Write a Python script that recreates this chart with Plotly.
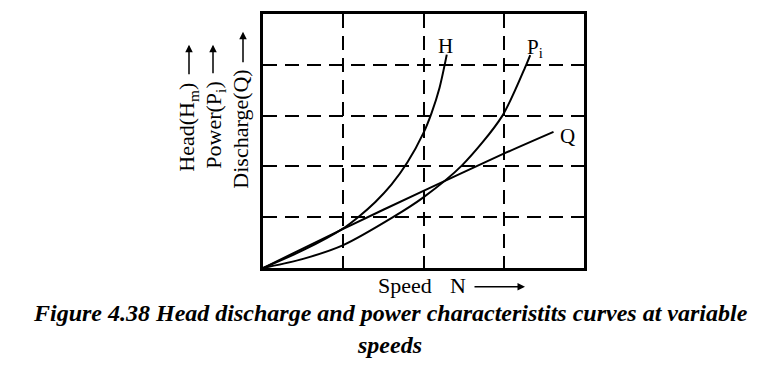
import plotly.graph_objects as go

# Speed (grid units) and curve values (grid units)
h_speed = [0, 0.5, 1.0, 1.2, 1.4, 1.6, 1.8, 2.0, 2.1, 2.2, 2.29]
h_head = [0, 0.35, 0.78, 1.02, 1.3, 1.64, 2.08, 2.66, 3.05, 3.55, 4.2]

p_speed = [0, 0.5, 1.0, 1.62, 1.99, 2.48, 2.98, 3.28, 3.33]
p_power = [0, 0.18, 0.45, 1.0, 1.38, 2.02, 2.99, 4.0, 4.19]

q_speed = [0, 1.0, 2.0, 3.0, 3.62]
q_discharge = [0, 0.77, 1.52, 2.25, 2.68]

SERIF = "Liberation Serif, Times New Roman, serif"

fig = go.Figure()
for xs, ys in [(h_speed, h_head), (p_speed, p_power), (q_speed, q_discharge)]:
    fig.add_trace(go.Scatter(x=xs, y=ys, mode="lines",
                             line=dict(color="black", width=2, shape="spline", smoothing=0.8),
                             hoverinfo="skip", showlegend=False))

# Curve labels
fig.add_annotation(x=2.27, y=4.37, text="H", showarrow=False,
                   font=dict(family=SERIF, size=21, color="black"))
fig.add_annotation(x=3.39, y=4.33, text="P<sub>i</sub>", showarrow=False,
                   font=dict(family=SERIF, size=21, color="black"))
fig.add_annotation(x=3.8, y=2.6, text="Q", showarrow=False,
                   font=dict(family=SERIF, size=21, color="black"))

def px2paper(px, py):
    return (px - 263) / 321.0, (268 - py) / 257.0

# Rotated axis labels
for txt, (cx, cy) in [("Head(H<sub>m</sub>)", (188, 126)),
                      ("Power(P<sub>i</sub>)", (215, 124)),
                      ("Discharge(Q)", (241, 128))]:
    x, y = px2paper(cx, cy)
    fig.add_annotation(x=x, y=y, xref="paper", yref="paper", text=txt, textangle=-90,
                       showarrow=False, xanchor="center", yanchor="middle",
                       font=dict(family=SERIF, size=22, color="black"))

for (hx, hy, ly) in [(189, 42, 73), (213, 42, 72), (243, 29, 61)]:
    x, y = px2paper(hx, hy)
    fig.add_annotation(x=x, y=y, xref="paper", yref="paper", text="", showarrow=True,
                       ax=0, ay=ly - hy, arrowhead=2, arrowsize=1, arrowwidth=1.5,
                       arrowcolor="black")

# Speed N label
x, y = px2paper(405, 286)
fig.add_annotation(x=x, y=y, xref="paper", yref="paper", text="Speed", showarrow=False,
                   xanchor="center", yanchor="middle",
                   font=dict(family=SERIF, size=22, color="black"))
x, y = px2paper(458, 286)
fig.add_annotation(x=x, y=y, xref="paper", yref="paper", text="N", showarrow=False,
                   xanchor="center", yanchor="middle",
                   font=dict(family=SERIF, size=22, color="black"))
x, y = px2paper(525, 287)
fig.add_annotation(x=x, y=y, xref="paper", yref="paper", text="", showarrow=True,
                   ax=-52, ay=0, arrowhead=2, arrowsize=1, arrowwidth=1.5, arrowcolor="black")

# Caption
x, y = px2paper(390, 314)
fig.add_annotation(x=x, y=y, xref="paper", yref="paper",
                   text="<b><i>Figure 4.38 Head discharge and power characteristits curves at variable</i></b>",
                   showarrow=False, xanchor="center", yanchor="middle",
                   font=dict(family=SERIF, size=24, color="black"))
x, y = px2paper(389, 346)
fig.add_annotation(x=x, y=y, xref="paper", yref="paper", text="<b><i>speeds</i></b>",
                   showarrow=False, xanchor="center", yanchor="middle",
                   font=dict(family=SERIF, size=24, color="black"))

axis_common = dict(showticklabels=False, ticks="", zeroline=False,
                   showline=True, mirror=True, linecolor="black", linewidth=2.5,
                   showgrid=True, gridcolor="black", gridwidth=2, griddash="14px,8px",
                   dtick=1, fixedrange=True)
fig.update_xaxes(range=[0, 4], **axis_common)
fig.update_yaxes(range=[0, 5], **axis_common)

# page body has an 8px margin: figure is 760x370 so the page region matches 768x378
fig.update_layout(width=760, height=370, margin=dict(l=255, r=184, t=3, b=110),
                  plot_bgcolor="white", paper_bgcolor="white", showlegend=False)

fig.write_html("out.html")
